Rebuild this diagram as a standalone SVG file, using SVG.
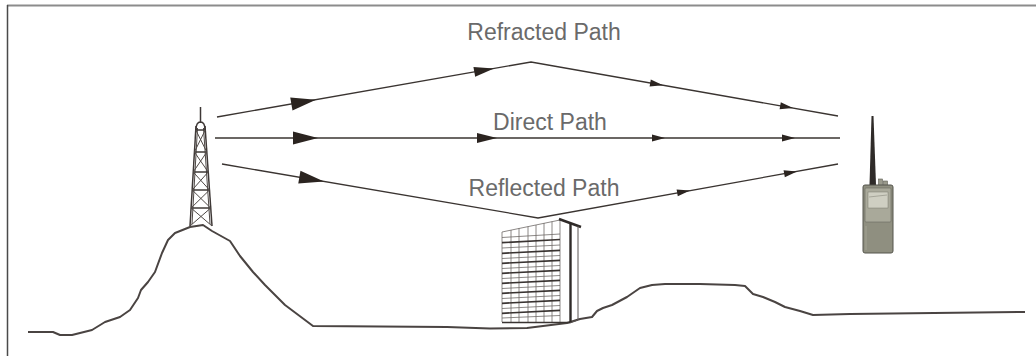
<svg xmlns="http://www.w3.org/2000/svg" width="1036" height="356" viewBox="0 0 1036 356">
  <style>
    .frame-top { stroke: #8c8c8c; stroke-width: 2; fill: none; }
    .frame-left { stroke: #4a4a4a; stroke-width: 1.5; fill: none; }
    .ground { stroke: #4a4442; stroke-width: 2; fill: none; stroke-linejoin: round; }
    .path { stroke: #3a3431; stroke-width: 1.3; fill: none; }
    .head { fill: #2b2420; }
    .label { font-family: "Liberation Sans", Arial, sans-serif; font-size: 23px; fill: #6a6a6a; text-anchor: middle; }
    .steel { stroke: #3e3836; stroke-width: 1.5; fill: none; }
    .steel-thin { stroke: #4f4946; stroke-width: 1; fill: none; }
    .floor { stroke: #3a3432; stroke-width: 1.7; }
    .mullion { stroke: #6f6967; stroke-width: 0.8; }
  </style>
  <defs>
    <path id="head-l" class="head" d="M0,0 L-25,-6.5 L-25,6.5 Z"/>
    <path id="head-m" class="head" d="M0,0 L-20,-5 L-20,5 Z"/>
    <path id="head-s" class="head" d="M0,0 L-13,-3.5 L-13,3.5 Z"/>
  </defs>

  <!-- frame -->
  <line class="frame-top" x1="7" y1="5.5" x2="1036" y2="5.5"/>
  <line class="frame-left" x1="7.5" y1="5" x2="7.5" y2="356"/>

  <!-- terrain -->
  <g id="terrain">
    <path class="ground" d="M28,332 L53,332 L60,335 L72,335 L92,330 L105,322 L120,317 L130,310 L138,298 L141,290 L148,282 L155,272 L162,253 L168,240 L175,233 L190,227 L203,225 L212,231 L230,241 L240,256 L253,272 L265,285 L285,305 L313,326 L447,327 L490,328.5 L527,328 L567,323 L580,319 L592,317 L597,311 L603,308 L612,305 L627,297 L640,288 L652,285 L665,284 L700,284 L735,285 L745,286 L753,294 L763,297 L775,302 L785,307 L800,311 L813,315 L850,314 L1025,312"/>
  </g>

  <!-- transmitter tower -->
  <g id="tower">
    <line class="steel" x1="200.5" y1="107" x2="200.5" y2="123"/>
    <path class="steel" d="M196,130 Q196,122 200.5,122 Q205,122 205,130"/>
    <line class="steel" x1="196" y1="126" x2="190" y2="226"/>
    <line class="steel" x1="205" y1="126" x2="212" y2="226"/>
    <line class="steel-thin" x1="197.5" y1="128" x2="192" y2="224"/>
    <line class="steel-thin" x1="203.5" y1="128" x2="210" y2="224"/>
    <line class="steel" x1="195.8" y1="130" x2="205.3" y2="130"/>
    <line class="steel" x1="194.4" y1="152" x2="206.8" y2="152"/>
    <line class="steel" x1="193.2" y1="172" x2="208.2" y2="172"/>
    <line class="steel" x1="192.2" y1="190" x2="209.5" y2="190"/>
    <line class="steel" x1="191.1" y1="208" x2="210.7" y2="208"/>
    <path class="steel-thin" d="M195.8,130 L206.8,152 M205.3,130 L194.4,152 M194.4,152 L208.2,172 M206.8,152 L193.2,172 M193.2,172 L209.5,190 M208.2,172 L192.2,190 M192.2,190 L210.7,208 M209.5,190 L191.1,208 M191.1,208 L212,226 M210.7,208 L190,226"/>
  </g>

  <!-- building -->
  <g id="building">
    <!-- window mullions -->
    <line class="mullion" x1="502" y1="232" x2="502" y2="322"/>
    <line class="mullion" x1="511" y1="230" x2="511" y2="322"/>
    <line class="mullion" x1="519" y1="228" x2="519" y2="322"/>
    <line class="mullion" x1="528" y1="226.5" x2="528" y2="322"/>
    <line class="mullion" x1="536" y1="225" x2="536" y2="322"/>
    <line class="mullion" x1="544" y1="223" x2="544" y2="322"/>
    <line class="mullion" x1="552" y1="221.5" x2="552" y2="322"/>
    <line class="mullion" x1="560" y1="220" x2="560" y2="322"/>
    <line class="mullion" x1="502" y1="232" x2="560" y2="220"/>
    <line class="mullion" x1="502" y1="237.5" x2="560" y2="234"/>
    <line class="mullion" x1="502" y1="248" x2="560" y2="245"/>
    <line class="mullion" x1="502" y1="258.5" x2="560" y2="255.5"/>
    <line class="mullion" x1="502" y1="268.5" x2="560" y2="265.5"/>
    <line class="mullion" x1="502" y1="278.5" x2="560" y2="275.5"/>
    <line class="mullion" x1="502" y1="288.5" x2="560" y2="285.5"/>
    <line class="mullion" x1="502" y1="298.5" x2="560" y2="295.5"/>
    <line class="mullion" x1="502" y1="308.5" x2="560" y2="305.5"/>
    <line class="mullion" x1="502" y1="318" x2="560" y2="315.5"/>
    <!-- floor slabs -->
    <line class="floor" x1="502" y1="242.7" x2="560" y2="239.5"/>
    <line class="floor" x1="502" y1="253.3" x2="560" y2="250.3"/>
    <line class="floor" x1="502" y1="263.3" x2="560" y2="260.3"/>
    <line class="floor" x1="502" y1="273.3" x2="560" y2="270.3"/>
    <line class="floor" x1="502" y1="283.3" x2="560" y2="280.3"/>
    <line class="floor" x1="502" y1="293.3" x2="560" y2="290.3"/>
    <line class="floor" x1="502" y1="303.3" x2="560" y2="300.3"/>
    <line class="floor" x1="502" y1="313.3" x2="560" y2="310.3"/>
    <line class="floor" x1="502" y1="322.5" x2="570" y2="322.5"/>
    <!-- side face -->
    <line stroke="#2f2a28" stroke-width="2.5" x1="559" y1="219" x2="581" y2="227"/>
    <line stroke="#2f2a28" stroke-width="2.4" x1="570.5" y1="223" x2="570.5" y2="323"/>
    <line stroke="#5a5452" stroke-width="1" x1="578" y1="226" x2="578" y2="320"/>
    <line stroke="#5a5452" stroke-width="1" x1="570" y1="323" x2="578" y2="320"/>
  </g>

  <!-- handheld radio -->
  <g id="radio">
    <path d="M871.5,116 L873.5,116 L876,185 L869.5,185 Z" fill="#2f2b29"/>
    <rect x="878.5" y="179" width="4" height="7" fill="#9a9a8c" stroke="#5c5c52" stroke-width="0.6"/>
    <rect x="883.5" y="181" width="4" height="5" fill="#9a9a8c" stroke="#5c5c52" stroke-width="0.6"/>
    <rect x="863" y="185" width="30" height="68" rx="2" fill="#8f8f80" stroke="#55554c" stroke-width="1"/>
    <rect x="865" y="188" width="26" height="34" rx="1" fill="#a9a99a" stroke="#6a6a5e" stroke-width="0.6"/>
    <rect x="868" y="192" width="20" height="16" fill="#cfcfc2" stroke="#7a7a6e" stroke-width="0.5"/>
    <line x1="869" y1="197" x2="887" y2="195" stroke="#8a8a7e" stroke-width="0.6"/>
    <line x1="866" y1="226" x2="866" y2="250" stroke="#a3a394" stroke-width="1"/>
  </g>

  <!-- signal paths -->
  <g id="connectors">
    <polyline class="path" points="217,117 531,62 838,116"/>
    <line class="path" x1="215" y1="138" x2="840" y2="138"/>
    <polyline class="path" points="222,164 538,218 838,164"/>

    <use href="#head-l" transform="translate(316,99.7) rotate(-9.9)"/>
    <use href="#head-m" transform="translate(494,68.5) rotate(-9.9)"/>
    <use href="#head-s" transform="translate(663,85.2) rotate(10)"/>
    <use href="#head-s" transform="translate(793,108) rotate(10)"/>

    <use href="#head-l" transform="translate(318,138)"/>
    <use href="#head-m" transform="translate(497,138)"/>
    <use href="#head-s" transform="translate(665,138)"/>
    <use href="#head-s" transform="translate(795,138)"/>

    <use href="#head-l" transform="translate(324,181.4) rotate(9.7)"/>
    <use href="#head-s" transform="translate(690,190.6) rotate(-10.2)"/>
    <use href="#head-s" transform="translate(797,171.4) rotate(-10.2)"/>
  </g>

  <!-- labels -->
  <text class="label" x="544" y="40">Refracted Path</text>
  <text class="label" x="550" y="130">Direct Path</text>
  <text class="label" x="544" y="196">Reflected Path</text>
</svg>
